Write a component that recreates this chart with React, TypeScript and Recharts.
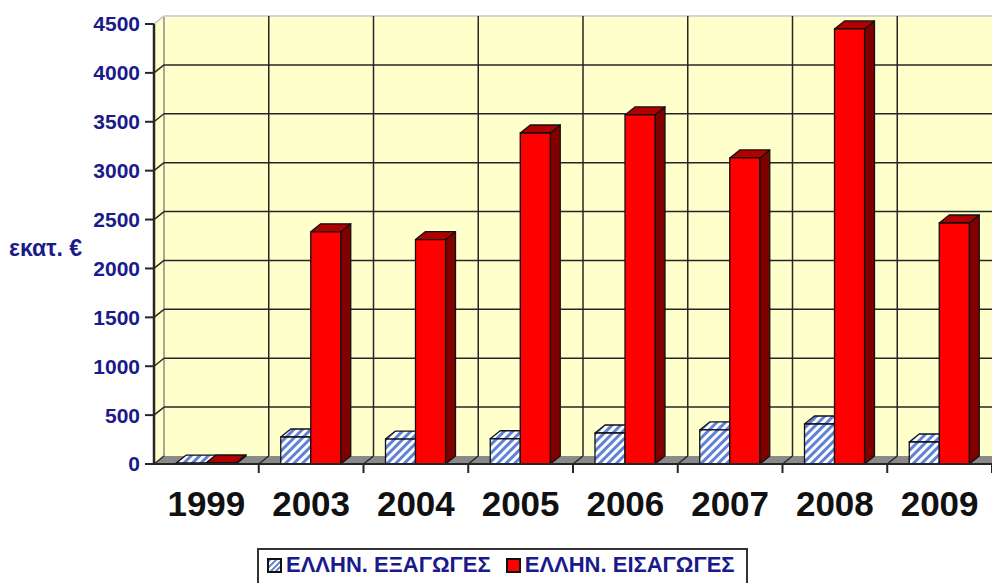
import React from 'react';
import { ComposedChart, Bar, XAxis, YAxis, CartesianGrid, Legend } from 'recharts';

const years = ['1999', '2003', '2004', '2005', '2006', '2007', '2008', '2009'];
const exportsGr = [8, 276, 255, 258, 317, 348, 409, 225];
const importsGr = [10, 2375, 2295, 3385, 3570, 3130, 4450, 2465];
const yTicks = [0, 500, 1000, 1500, 2000, 2500, 3000, 3500, 4000, 4500];
const exportName = 'ΕΛΛΗΝ. ΕΞΑΓΩΓΕΣ';
const importName = 'ΕΛΛΗΝ. ΕΙΣΑΓΩΓΕΣ';
const rows = years.map((year, i) => ({ year, exportsGr: exportsGr[i], importsGr: importsGr[i] }));

const W = 992, H = 583;
const L = 154, T = 24, B = 464, R = 992;
const DX = 10, DY = 8;
const CAT = (R - L) / years.length;
const INK = '#262626';
const NAVY = '#1a1a8a';
const SANS = '"Liberation Sans", Arial, sans-serif';

function Box3D(props: any) {
  const { x, y, width, height, front, top, side } = props;
  const r = x + width, b = y + height;
  return (
    <g stroke="#111" strokeWidth={1.3} strokeLinejoin="round">
      <polygon points={`${r},${y} ${r + DX},${y - DY} ${r + DX},${b - DY} ${r},${b}`} fill={side} />
      <polygon points={`${x},${y} ${x + DX},${y - DY} ${r + DX},${y - DY} ${r},${y}`} fill={top} />
      <rect x={x} y={y} width={width} height={height} fill={front} />
    </g>
  );
}

function HLine(props: any) {
  const y = props.y1;
  const isFloor = y > B - 1;
  const isTop = y < T + 1;
  return (
    <g>
      {isFloor && (
        <g>
          <rect x={L + DX} y={T - DY} width={R - L} height={B - T} fill="#ffffcc" />
          <polygon points={`${L},${T} ${L + DX},${T - DY} ${L + DX},${B - DY} ${L},${B}`} fill="#ffffcc" />
          <line x1={L + DX} y1={T - DY} x2={L + DX} y2={B - DY} stroke="#8a8a8a" strokeWidth={1.5} />
          <polygon points={`${L},${B} ${L + DX},${B - DY} ${R},${B - DY} ${R},${B}`} fill="#8a8a8a" />
        </g>
      )}
      <line x1={L} y1={y} x2={L + DX} y2={y - DY} stroke={isTop ? '#bdbdbd' : INK} strokeWidth={1.5} />
      {!isFloor && (
        <line x1={L + DX} y1={y - DY} x2={R} y2={y - DY} stroke={isTop ? '#d4d4d4' : INK} strokeWidth={isTop ? 2 : 1.5} />
      )}
    </g>
  );
}

function VLine(props: any) {
  // The grid also reports the plot's left edge; only the category centres map to a boundary line.
  if (props.x1 < L + CAT / 4) return <g />;
  const x = props.x1 + CAT / 2;
  return (
    <g>
      <line x1={x + DX} y1={T - DY} x2={x + DX} y2={B - DY} stroke={INK} strokeWidth={1.5} />
      <line x1={x} y1={B} x2={x + DX} y2={B - DY} stroke={INK} strokeWidth={1.5} />
      <line x1={x} y1={B} x2={x} y2={B + 9} stroke={INK} strokeWidth={2} />
    </g>
  );
}

function LegendBox() {
  const swatch = { width: 11, height: 11, border: '2px solid #111', display: 'inline-block', marginRight: 4, flex: 'none' as const };
  return (
    <div
      style={{
        width: 491,
        height: 40,
        border: '2px solid #333',
        boxSizing: 'border-box',
        background: '#fff',
        fontFamily: SANS,
        fontWeight: 700,
        fontSize: 22,
        color: NAVY,
        display: 'flex',
        alignItems: 'flex-start',
        paddingTop: 2,
        paddingLeft: 8,
        whiteSpace: 'nowrap',
        lineHeight: '26px',
      }}
    >
      <span style={{ ...swatch, marginTop: 6, background: 'repeating-linear-gradient(135deg,#6f8fd8 0 2px,#fff 2px 4px)' }} />
      <span style={{ marginRight: 15 }}>{exportName}</span>
      <span style={{ ...swatch, marginTop: 6, background: '#ff0000' }} />
      <span>{importName}</span>
    </div>
  );
}

export default function App() {
  return (
    <div style={{ position: 'absolute', left: 0, top: 0, width: W, height: H, overflow: 'hidden', background: '#fff' }}>
      <ComposedChart
        width={W}
        height={H}
        data={rows}
        barCategoryGap={22.5}
        barGap={0}
        margin={{ top: T, right: 0, left: L - 60, bottom: H - B - 60 }}
      >
        <defs>
          <pattern id="hatch" patternUnits="userSpaceOnUse" width="6" height="6" patternTransform="rotate(45)">
            <rect width="6" height="6" fill="#ffffff" />
            <rect width="3" height="6" fill="#5f82d6" />
          </pattern>
        </defs>
        <CartesianGrid horizontal={(p: any) => <HLine key={p.key} {...p} />} vertical={(p: any) => <VLine key={p.key} {...p} />} />
        <XAxis
          dataKey="year"
          height={60}
          axisLine={{ stroke: INK, strokeWidth: 2 }}
          tickLine={false}
          tick={{ fill: '#111', fontSize: 35, fontWeight: 700, fontFamily: SANS }}
          tickMargin={21}
          interval={0}
        />
        <YAxis
          width={60}
          domain={[0, 4500]}
          ticks={yTicks}
          interval={0}
          tickSize={9}
          tickMargin={5}
          axisLine={{ stroke: INK, strokeWidth: 2.5 }}
          tickLine={{ stroke: INK, strokeWidth: 2 }}
          tick={{ fill: NAVY, fontSize: 21, fontWeight: 700, fontFamily: SANS }}
          label={{
            value: 'εκατ. €',
            position: 'left',
            offset: 12,
            dy: 4,
            fill: NAVY,
            fontSize: 23,
            fontWeight: 700,
            fontFamily: SANS,
          }}
        />
        <Legend
          verticalAlign="middle"
          layout="horizontal"
          wrapperStyle={{ position: 'absolute', left: 257, top: 548, width: 491, height: 40 }}
          content={() => <LegendBox />}
        />
        <Bar
          dataKey="exportsGr"
          name={exportName}
          barSize={30}
          isAnimationActive={false}
          shape={(p: any) => <Box3D {...p} front="url(#hatch)" top="url(#hatch)" side="#2a3f80" />}
        />
        <Bar
          dataKey="importsGr"
          name={importName}
          barSize={30}
          isAnimationActive={false}
          shape={(p: any) => <Box3D {...p} front="#ff0000" top="#b00000" side="#800000" />}
        />
      </ComposedChart>
    </div>
  );
}
